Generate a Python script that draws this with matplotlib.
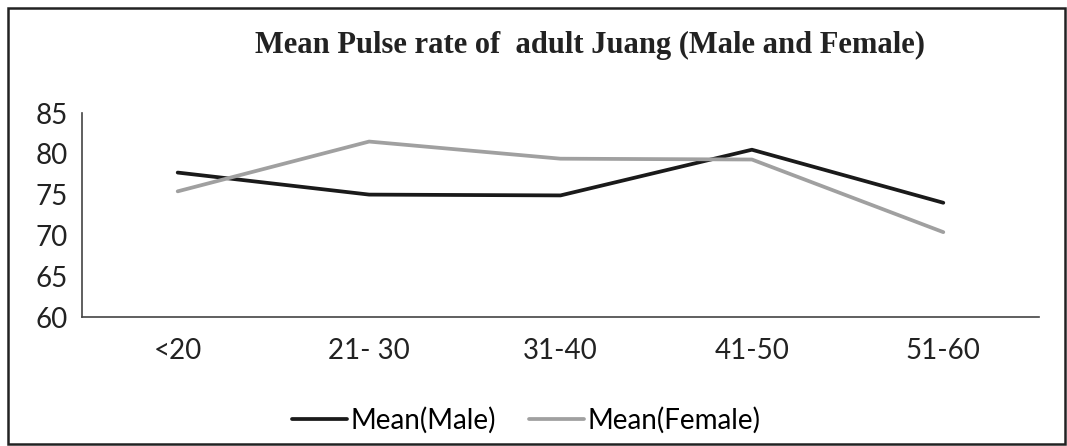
import matplotlib.pyplot as plt
from matplotlib.patches import Rectangle

age_groups = ["<20", "21- 30", "31-40", "41-50", "51-60"]
male = [77.7, 75.0, 74.9, 80.5, 74.0]
female = [75.4, 81.5, 79.4, 79.3, 70.4]

W, H = 1067, 446
fig = plt.figure(figsize=(W / 100, H / 100), dpi=100)
ax = fig.add_axes([82 / W, 1 - 317 / H, (1039 - 82) / W, (317 - 113) / H])

x = range(len(age_groups))
ax.plot(x, male, color="#1a1a1a", lw=2.7, label="Mean(Male)", solid_capstyle="round")
ax.plot(x, female, color="#a0a0a0", lw=2.7, label="Mean(Female)", solid_capstyle="round")

ax.set_xlim(-0.5, len(age_groups) - 0.5)
ax.set_ylim(60, 85)
ax.set_yticks(range(60, 86, 5))
ax.set_xticks(list(x))
ax.set_xticklabels(age_groups)
for lab in ax.get_xticklabels() + ax.get_yticklabels():
    lab.set_fontfamily("Lato")
    lab.set_fontsize(20)
    lab.set_color("#222222")
ax.tick_params(axis="both", length=0)
ax.tick_params(axis="y", pad=10)
ax.tick_params(axis="x", pad=15)
for s in ["top", "right"]:
    ax.spines[s].set_visible(False)
for s in ["left", "bottom"]:
    ax.spines[s].set_color("#444444")
    ax.spines[s].set_linewidth(1.2)

fig.text(590 / W, 1 - 45 / H, "Mean Pulse rate of  adult Juang (Male and Female)",
         ha="center", va="center", fontfamily="Liberation Serif",
         fontweight="bold", fontsize=22, color="#222222")

ax.legend(loc="center", bbox_to_anchor=(526 / W, 1 - 420 / H), bbox_transform=fig.transFigure,
          ncol=2, frameon=False, prop={"family": "Lato", "size": 20},
          handlelength=2.0, handletextpad=0.1, columnspacing=1.2)

fig.add_artist(Rectangle((8 / W, 1 - 444 / H), (1065 - 8) / W, (444 - 8) / H,
                         transform=fig.transFigure, fill=False,
                         edgecolor="#222222", lw=1.8))

fig.savefig("out.png", dpi=100)
